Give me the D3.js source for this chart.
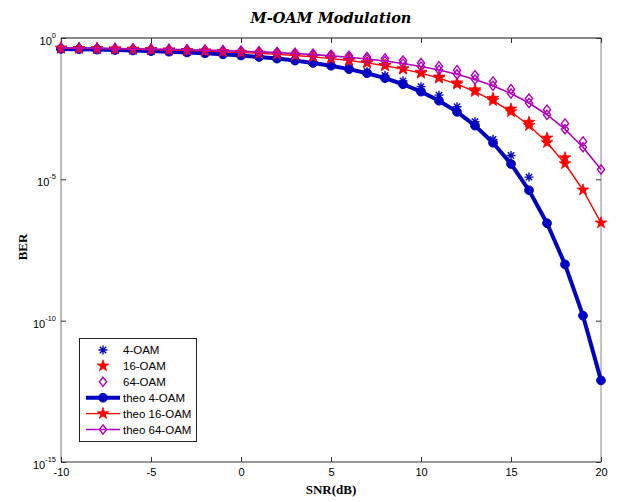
<!DOCTYPE html>
<html>
<head>
<meta charset="utf-8">
<script src="https://cdn.jsdelivr.net/npm/d3@7/dist/d3.min.js"></script>
<style>
  body { margin: 0; background: #fff; }
  svg { display: block; }
</style>
</head>
<body>
<svg id="chart" width="619" height="502"></svg>
<script>
// SNR grid (dB)
const snrDb = [-10,-9,-8,-7,-6,-5,-4,-3,-2,-1,0,1,2,3,4,5,6,7,8,9,10,11,12,13,14,15,16,17,18,19,20];

// Theoretical BER curves
const theo4 = [0.4115,0.4009,0.3892,0.3761,0.3615,0.3455,0.3277,0.3083,0.2872,0.2643,0.2398,0.2138,0.1867,0.1589,0.1312,0.1043,0.0791,0.0567,0.0379,0.0231,0.01267,0.00605,0.00244,7.94e-4,1.97e-4,3.5e-5,4.1e-6,2.8e-7,9.8e-9,1.5e-10,7.7e-13];
const theo16 = [0.4372,0.4296,0.4211,0.4116,0.4011,0.3893,0.3762,0.3617,0.3456,0.3279,0.3085,0.2874,0.2645,0.2400,0.2140,0.1870,0.1592,0.1315,0.1046,0.0794,0.0569,0.0380,0.0233,0.01276,0.00611,0.00246,8.03e-4,2.0e-4,3.56e-5,4.2e-6,2.87e-7];
const theo64 = [0.4486,0.4424,0.4354,0.4276,0.4189,0.4092,0.3984,0.3863,0.3729,0.3580,0.3415,0.3234,0.3036,0.2821,0.2588,0.2339,0.2077,0.1804,0.1526,0.1249,0.0984,0.0737,0.0520,0.0341,0.0204,0.01084,0.00500,0.00193,5.92e-4,1.37e-4,2.23e-5];

// Simulated BER (runs stop once no errors are counted)
const sim4 = [0.4128,0.4021,0.3905,0.3779,0.3634,0.3478,0.3302,0.3112,0.2905,0.2681,0.2441,0.2185,0.1917,0.1641,0.1365,0.1098,0.0846,0.0640,0.0470,0.0305,0.0190,0.0095,0.0037,0.0011,2.6e-4,7.0e-5,1.2e-5];
const sim16 = [0.4380,0.4302,0.4220,0.4125,0.4022,0.3906,0.3778,0.3635,0.3476,0.3302,0.3110,0.2901,0.2674,0.2432,0.2175,0.1906,0.1630,0.1352,0.1080,0.0825,0.0620,0.0420,0.0260,0.0148,0.0074,0.0031,1.05e-3,2.9e-4,5.8e-5];
const sim64 = [0.4490,0.4430,0.4370,0.4290,0.4210,0.4120,0.4020,0.3920,0.3810,0.3680,0.3540,0.3380,0.3200,0.3000,0.2800,0.2580,0.2360,0.2140,0.1900,0.1600,0.1300,0.1000,0.0730,0.0480,0.0290,0.0155,0.0072,0.0029,9.5e-4,2.2e-4];

// Axis ticks
const xTicks = [-10,-5,0,5,10,15,20];
const yTickExps = [0,-5,-10,-15];

const legendLabels = ["4-OAM","16-OAM","64-OAM","theo 4-OAM","theo 16-OAM","theo 64-OAM"];

const BLUE = "#0000c4", RED = "#ff0000", PURPLE = "#b000b8";

const svg = d3.select("#chart");
const pLeft = 61, pRight = 601, pTop = 38, pBottom = 462;

const x = d3.scaleLinear().domain([-10, 20]).range([pLeft, pRight]);
const y = d3.scaleLog().domain([1e-15, 1]).range([pBottom, pTop]);

svg.append("rect").attr("width", 619).attr("height", 502).attr("fill", "#fff");

// Marker shapes
const asterisk = r => {
  const d = r * Math.SQRT1_2;
  return `M${-r},0L${r},0M0,${-r}L0,${r}M${-d},${-d}L${d},${d}M${-d},${d}L${d},${-d}`;
};
const diamond = (w, h) => `M0,${-h}L${w},0L0,${h}L${-w},0Z`;
const star = d3.symbol().type(d3.symbolStar);

// Frame
svg.append("line").attr("x1", pLeft).attr("x2", pRight).attr("y1", pTop).attr("y2", pTop).attr("stroke", "#111").attr("stroke-width", 1);
svg.append("line").attr("x1", pLeft).attr("x2", pRight).attr("y1", pBottom).attr("y2", pBottom).attr("stroke", "#333").attr("stroke-width", 1);
svg.append("line").attr("x1", pLeft).attr("x2", pLeft).attr("y1", pTop).attr("y2", pBottom).attr("stroke", "#777").attr("stroke-width", 1);
svg.append("line").attr("x1", pRight).attr("x2", pRight).attr("y1", pTop).attr("y2", pBottom).attr("stroke", "#888").attr("stroke-width", 1);

// Inward ticks on all four sides
const tickStroke = g => g.selectAll(".tick line").attr("stroke", "#333");
svg.append("g").attr("transform", `translate(0,${pBottom})`)
  .call(d3.axisBottom(x).tickValues(xTicks).tickSize(-5).tickPadding(6).tickFormat(d => String(d)))
  .call(g => g.select(".domain").remove())
  .call(tickStroke)
  .call(g => g.selectAll("text").attr("font-family", "Liberation Sans, Arial, sans-serif").attr("font-size", 11).attr("fill", "#000"));
svg.append("g").attr("transform", `translate(0,${pTop})`)
  .call(d3.axisTop(x).tickValues(xTicks).tickSize(-5).tickFormat(""))
  .call(g => g.select(".domain").remove())
  .call(tickStroke);
const yTickVals = yTickExps.map(e => Math.pow(10, e));
svg.append("g").attr("transform", `translate(${pLeft},0)`)
  .call(d3.axisLeft(y).tickValues(yTickVals).tickSize(-5).tickFormat(""))
  .call(g => g.select(".domain").remove())
  .call(tickStroke);
svg.append("g").attr("transform", `translate(${pRight},0)`)
  .call(d3.axisRight(y).tickValues(yTickVals).tickSize(-5).tickFormat(""))
  .call(g => g.select(".domain").remove())
  .call(tickStroke);

// Y tick labels as 10 with superscript exponent
const yLab = svg.append("g").attr("font-family", "Liberation Sans, Arial, sans-serif").attr("fill", "#000");
yTickExps.forEach(e => {
  const t = yLab.append("text")
    .attr("x", 56).attr("y", y(Math.pow(10, e)) + 7)
    .attr("text-anchor", "end").attr("font-size", 11);
  t.append("tspan").text("10");
  t.append("tspan").attr("font-size", 7.5).attr("dy", -7).text(String(e));
});

// Titles
svg.append("text").attr("x", 331).attr("y", 23).attr("text-anchor", "middle")
  .attr("font-family", "DejaVu Serif, serif").attr("font-weight", "bold").attr("font-style", "italic")
  .attr("font-size", 14.5).text("M-OAM Modulation");
svg.append("text").attr("x", 331).attr("y", 494).attr("text-anchor", "middle")
  .attr("font-family", "Liberation Serif, Times New Roman, serif").attr("font-weight", "bold")
  .attr("font-size", 13).text("SNR(dB)");
svg.append("text").attr("transform", "translate(27,247) rotate(-90)").attr("text-anchor", "middle")
  .attr("font-family", "Liberation Serif, Times New Roman, serif").attr("font-weight", "bold")
  .attr("font-size", 13).text("BER");

// Data layers
const plot = svg.append("g");

function simMarkers(vals, cls, draw) {
  plot.append("g").attr("class", cls)
    .selectAll("path").data(vals).join("path")
    .attr("transform", (v, i) => `translate(${x(snrDb[i])},${y(v)})`)
    .call(draw);
}

simMarkers(sim4, "sim4", s => s.attr("d", asterisk(4.5)).attr("fill", "none").attr("stroke", BLUE).attr("stroke-width", 1.4));
simMarkers(sim16, "sim16", s => s.attr("d", star.size(42)()).attr("fill", RED).attr("stroke", RED).attr("stroke-width", 0.8));
simMarkers(sim64, "sim64", s => s.attr("d", diamond(3.6, 4.6)).attr("fill", "none").attr("stroke", PURPLE).attr("stroke-width", 1.4));

const line = d3.line().x((v, i) => x(snrDb[i])).y(v => y(v));

function theoSeries(vals, color, width, marker) {
  const g = plot.append("g");
  g.append("path").datum(vals).attr("d", line).attr("fill", "none")
    .attr("stroke", color).attr("stroke-width", width).attr("stroke-linejoin", "round");
  g.selectAll(".m").data(vals).join("path").attr("class", "m")
    .attr("transform", (v, i) => `translate(${x(snrDb[i])},${y(v)})`)
    .call(marker);
}

theoSeries(theo4, BLUE, 4, s => s.attr("d", d3.symbol().type(d3.symbolCircle).size(60)()).attr("fill", BLUE).attr("stroke", BLUE).attr("stroke-width", 1));
theoSeries(theo16, RED, 1.4, s => s.attr("d", star.size(42)()).attr("fill", RED).attr("stroke", RED).attr("stroke-width", 0.8));
theoSeries(theo64, PURPLE, 1.6, s => s.attr("d", diamond(3.6, 4.6)).attr("fill", "none").attr("stroke", PURPLE).attr("stroke-width", 1.4));

// Legend
const lg = svg.append("g");
lg.append("rect").attr("x", 79.5).attr("y", 338.5).attr("width", 117).attr("height", 103)
  .attr("fill", "#fff").attr("stroke", "#222").attr("stroke-width", 1);
const rowY = i => 350 + i * 15.9;
const legendDraw = [
  { marker: s => s.attr("d", asterisk(4.5)).attr("fill", "none").attr("stroke", BLUE).attr("stroke-width", 1.4) },
  { marker: s => s.attr("d", star.size(42)()).attr("fill", RED).attr("stroke", RED).attr("stroke-width", 0.8) },
  { marker: s => s.attr("d", diamond(3.6, 4.6)).attr("fill", "none").attr("stroke", PURPLE).attr("stroke-width", 1.4) },
  { color: BLUE, width: 4, marker: s => s.attr("d", d3.symbol().type(d3.symbolCircle).size(60)()).attr("fill", BLUE).attr("stroke", BLUE) },
  { color: RED, width: 1.4, marker: s => s.attr("d", star.size(42)()).attr("fill", RED).attr("stroke", RED).attr("stroke-width", 0.8) },
  { color: PURPLE, width: 1.6, marker: s => s.attr("d", diamond(3.6, 4.6)).attr("fill", "none").attr("stroke", PURPLE).attr("stroke-width", 1.4) }
];
legendLabels.forEach((label, i) => {
  const d = legendDraw[i];
  const yy = rowY(i);
  if (d.color) {
    lg.append("line").attr("x1", 86).attr("x2", 120).attr("y1", yy).attr("y2", yy)
      .attr("stroke", d.color).attr("stroke-width", d.width);
  }
  lg.append("path").attr("transform", `translate(103,${yy})`).call(d.marker);
  lg.append("text").attr("x", 123).attr("y", yy + 4)
    .attr("font-family", "Liberation Sans, Arial, sans-serif").attr("font-size", 11.5).attr("fill", "#000")
    .text(label);
});
</script>
</body>
</html>
